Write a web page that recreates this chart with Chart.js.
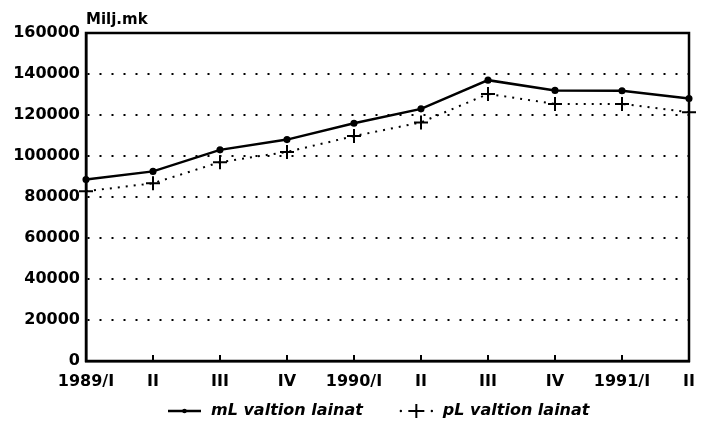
<!DOCTYPE html>
<html>
<head>
<meta charset="utf-8">
<script src="https://cdn.jsdelivr.net/npm/chart.js@4.4.1/dist/chart.umd.min.js"></script>
<style>
  html, body { margin: 0; padding: 0; background: #fff; }
  #wrap { width: 706px; height: 444px; }
</style>
</head>
<body>
<div id="wrap"><canvas id="chart"></canvas></div>
<script>
// Quarters on the x axis
const quarters = ['1989/I', 'II', 'III', 'IV', '1990/I', 'II', 'III', 'IV', '1991/I', 'II'];
// Values, Milj.mk
const mlLainat = [88500, 92500, 103000, 108000, 116000, 123000, 137000, 132000, 131800, 128000];
const plLainat = [82800, 86700, 97000, 102000, 109700, 116400, 130300, 125400, 125400, 121400];
const yTicks = [0, 20000, 40000, 60000, 80000, 100000, 120000, 140000, 160000];

const unitLabel = 'Milj.mk';
const tickFont = { family: 'DejaVu Sans', weight: 'bold', size: 16 };

// draws a legend sample (line + marker) starting at x, centred on y
function drawSample(ctx, x, y, w, dashed, marker) {
    ctx.save();
    ctx.strokeStyle = '#000';
    ctx.fillStyle = '#000';
    ctx.lineWidth = dashed ? 2 : 2.5;
    if (dashed) {
        // just two dots at the ends
        ctx.beginPath();
        ctx.arc(x + 1, y, 1.2, 0, Math.PI * 2);
        ctx.arc(x + w - 1, y, 1.2, 0, Math.PI * 2);
        ctx.fill();
    } else {
        ctx.beginPath();
        ctx.moveTo(x, y);
        ctx.lineTo(x + w, y);
        ctx.stroke();
    }
    const cx = x + w / 2;
    if (marker === 'dot') {
        ctx.beginPath();
        ctx.arc(cx, y, 2.3, 0, Math.PI * 2);
        ctx.fill();
    } else {
        ctx.beginPath();
        ctx.moveTo(cx, y - 7);
        ctx.lineTo(cx, y + 7);
        ctx.moveTo(cx - 8, y);
        ctx.lineTo(cx + 8, y);
        ctx.stroke();
    }
    ctx.restore();
}

const framePlugin = {
    id: 'frame',
    afterDraw(chart) {
        const { ctx, chartArea: a, scales } = chart;
        ctx.save();
        ctx.strokeStyle = '#000';
        ctx.lineWidth = 2.5;
        ctx.strokeRect(a.left, a.top, a.right - a.left, a.bottom - a.top);
        // small tick marks pointing into the plot
        ctx.lineWidth = 2;
        scales.x.ticks.forEach((t, i) => {
            const x = scales.x.getPixelForTick(i);
            ctx.beginPath();
            ctx.moveTo(x, a.bottom);
            ctx.lineTo(x, a.bottom - 6);
            ctx.stroke();
        });
        // unit label above the y axis
        ctx.fillStyle = '#000';
        ctx.font = 'bold 15px "DejaVu Sans"';
        ctx.textAlign = 'left';
        ctx.textBaseline = 'alphabetic';
        ctx.fillText(unitLabel, a.left, a.top - 9);

        // legend under the x axis
        ctx.font = 'italic bold 16px "DejaVu Sans"';
        ctx.textBaseline = 'middle';
        const ly = 411;
        let lx = 168;
        chart.data.datasets.forEach((ds, i) => {
            const sw = 33;
            drawSample(ctx, lx, ly, sw, i === 1, i === 0 ? 'dot' : 'plus');
            lx += sw + 10;
            ctx.fillText(ds.label, lx, ly);
            lx += ctx.measureText(ds.label).width + 37;
        });
        ctx.restore();
    }
};

new Chart(document.getElementById('chart'), {
    type: 'line',
    data: {
        labels: quarters,
        datasets: [{
            label: 'mL valtion lainat',
            data: mlLainat,
            borderColor: '#000',
            backgroundColor: '#000',
            borderWidth: 2.5,
            pointRadius: 2.3,
            pointStyle: 'circle',
            tension: 0
        }, {
            label: 'pL valtion lainat',
            data: plLainat,
            borderColor: '#000',
            backgroundColor: '#000',
            borderWidth: 2,
            borderDash: [2, 6],
            pointStyle: 'cross',
            pointRadius: 7,
            pointBorderWidth: 2,
            tension: 0
        }]
    },
    options: {
        responsive: true,
        maintainAspectRatio: false,
        animation: false,
        layout: { padding: { top: 33, left: 8, right: 17, bottom: 53 } },
        plugins: {
            tooltip: { enabled: false },
            legend: { display: false }
        },
        scales: {
            x: {
                offset: false,
                grid: { display: false, drawTicks: false },
                border: { display: true, color: '#000', width: 2.5 },
                ticks: { color: '#000', font: tickFont, padding: 11, maxRotation: 0, autoSkip: false },
                afterFit(scale) { scale.height = 30; }
            },
            y: {
                min: 0,
                max: 160000,
                afterBuildTicks(scale) { scale.ticks = yTicks.map(v => ({ value: v })); },
                grid: { color: '#000', lineWidth: 2, drawTicks: false },
                border: { display: true, color: '#000', width: 2.5, dash: [2, 10] },
                ticks: { color: '#000', font: tickFont, padding: 6, callback: v => String(v) },
                afterFit(scale) { scale.width = 78; }
            }
        }
    },
    plugins: [framePlugin]
});
</script>
</body>
</html>
